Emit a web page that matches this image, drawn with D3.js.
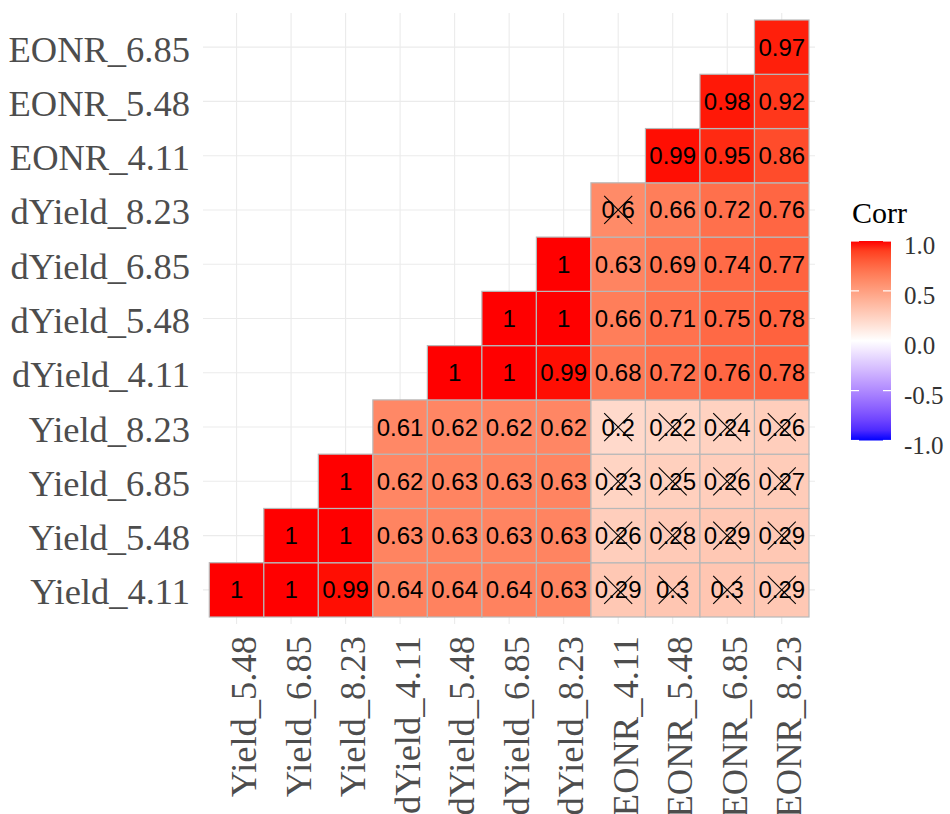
<!DOCTYPE html>
<html>
<head>
<meta charset="utf-8">
<script src="https://cdn.jsdelivr.net/npm/d3@7"></script>
<style>
  body { margin: 0; background: #fff; }
</style>
</head>
<body>
<div id="container"></div>
<script>
// variables on each axis
var xVars = ["Yield_5.48","Yield_6.85","Yield_8.23","dYield_4.11","dYield_5.48","dYield_6.85","dYield_8.23","EONR_4.11","EONR_5.48","EONR_6.85","EONR_8.23"];
var yVars = ["Yield_4.11","Yield_5.48","Yield_6.85","Yield_8.23","dYield_4.11","dYield_5.48","dYield_6.85","dYield_8.23","EONR_4.11","EONR_5.48","EONR_6.85"];

// correlations, one row per y variable, starting at the x column with the same index
var corrRows = [
  [1, 1, 0.99, 0.64, 0.64, 0.64, 0.63, 0.29, 0.3, 0.3, 0.29],
  [1, 1, 0.63, 0.63, 0.63, 0.63, 0.26, 0.28, 0.29, 0.29],
  [1, 0.62, 0.63, 0.63, 0.63, 0.23, 0.25, 0.26, 0.27],
  [0.61, 0.62, 0.62, 0.62, 0.2, 0.22, 0.24, 0.26],
  [1, 1, 0.99, 0.68, 0.72, 0.76, 0.78],
  [1, 1, 0.66, 0.71, 0.75, 0.78],
  [1, 0.63, 0.69, 0.74, 0.77],
  [0.6, 0.66, 0.72, 0.76],
  [0.99, 0.95, 0.86],
  [0.98, 0.92],
  [0.97]
];
// 1 = not significant (crossed out)
var insigRows = [
  [0, 0, 0, 0, 0, 0, 0, 1, 1, 1, 1],
  [0, 0, 0, 0, 0, 0, 1, 1, 1, 1],
  [0, 0, 0, 0, 0, 1, 1, 1, 1],
  [0, 0, 0, 0, 1, 1, 1, 1],
  [0, 0, 0, 0, 0, 0, 0],
  [0, 0, 0, 0, 0, 0],
  [0, 0, 0, 0, 0],
  [1, 0, 0, 0],
  [0, 0, 0],
  [0, 0],
  [0]
];
var legendBreaks = [-1, -0.5, 0, 0.5, 1];

var cells = [];
corrRows.forEach(function(row, i) {
  row.forEach(function(v, k) {
    cells.push({ x: xVars[i + k], y: yVars[i], value: v, insig: insigRows[i][k] === 1 });
  });
});

var svg = d3.select("#container").append("svg")
  .attr("width", 950)
  .attr("height", 814);

var x = d3.scaleBand().domain(xVars).range([209.3, 809]).padding(0);
var y = d3.scaleBand().domain(yVars.slice().reverse()).range([20, 617]).padding(0);

var fill = d3.scaleLinear().domain([-1, 0, 1])
  .range(["blue", "white", "red"])
  .interpolate(d3.interpolateLab);

var serif = "'Liberation Serif', 'Times New Roman', serif";
var sans = "'Liberation Sans', Arial, sans-serif";

// grid lines
var grid = svg.append("g");
xVars.forEach(function(v) {
  var cx = x(v) + x.bandwidth() / 2;
  grid.append("line").attr("x1", cx).attr("x2", cx).attr("y1", 13).attr("y2", 624)
    .attr("stroke", "#ebebeb").attr("stroke-width", 1.1);
});
yVars.forEach(function(v) {
  var cy = y(v) + y.bandwidth() / 2;
  grid.append("line").attr("x1", 203).attr("x2", 815).attr("y1", cy).attr("y2", cy)
    .attr("stroke", "#ebebeb").attr("stroke-width", 1.1);
});

// tiles
svg.append("g").selectAll("rect").data(cells).enter().append("rect")
  .attr("x", function(d) { return x(d.x); })
  .attr("y", function(d) { return y(d.y); })
  .attr("width", x.bandwidth())
  .attr("height", y.bandwidth())
  .attr("fill", function(d) { return fill(d.value); })
  .attr("stroke", "#b8b8b8")
  .attr("stroke-width", 1.2);

// values
svg.append("g").selectAll("text").data(cells).enter().append("text")
  .attr("x", function(d) { return x(d.x) + x.bandwidth() / 2; })
  .attr("y", function(d) { return y(d.y) + y.bandwidth() / 2 + 8.5; })
  .attr("text-anchor", "middle")
  .style("font-family", sans)
  .style("font-size", "24px")
  .attr("fill", "black")
  .text(function(d) { return String(d.value); });

// crosses for insignificant cells
var cr = 14;
var crosses = svg.append("g").selectAll("g").data(cells.filter(function(d) { return d.insig; }))
  .enter().append("g")
  .attr("transform", function(d) {
    return "translate(" + (x(d.x) + x.bandwidth() / 2) + "," + (y(d.y) + y.bandwidth() / 2) + ")";
  });
crosses.append("line").attr("x1", -cr).attr("y1", -cr).attr("x2", cr).attr("y2", cr)
  .attr("stroke", "black").attr("stroke-width", 1.1);
crosses.append("line").attr("x1", -cr).attr("y1", cr).attr("x2", cr).attr("y2", -cr)
  .attr("stroke", "black").attr("stroke-width", 1.1);

// y axis labels
svg.append("g").selectAll("text").data(yVars).enter().append("text")
  .attr("x", 190)
  .attr("y", function(d) { return y(d) + y.bandwidth() / 2 + 14.5; })
  .attr("text-anchor", "end")
  .style("font-family", serif)
  .style("font-size", "36.5px")
  .attr("fill", "#4d4d4d")
  .text(function(d) { return d; });

// x axis labels, rotated
svg.append("g").selectAll("text").data(xVars).enter().append("text")
  .attr("transform", function(d) {
    return "translate(" + (x(d) + x.bandwidth() / 2 + 19.5) + ",636) rotate(-90)";
  })
  .attr("text-anchor", "end")
  .style("font-family", serif)
  .style("font-size", "36.5px")
  .attr("fill", "#4d4d4d")
  .text(function(d) { return d; });

// legend
var legend = svg.append("g");
legend.append("text").attr("x", 852).attr("y", 223)
  .style("font-family", serif).style("font-size", "30px").attr("fill", "black")
  .text("Corr");

var ly = d3.scaleLinear().domain([1, -1]).range([241, 440.5]);
var grad = svg.append("defs").append("linearGradient").attr("id", "corrgrad")
  .attr("x1", 0).attr("y1", 0).attr("x2", 0).attr("y2", 1);
d3.range(0, 21).forEach(function(i) {
  var v = 1 - i / 10;
  grad.append("stop").attr("offset", (i / 20 * 100) + "%").attr("stop-color", fill(v));
});
legend.append("rect").attr("x", 851).attr("y", ly(1)).attr("width", 40).attr("height", ly(-1) - ly(1))
  .attr("fill", "url(#corrgrad)");
legendBreaks.forEach(function(b) {
  legend.append("line").attr("x1", 851).attr("x2", 859).attr("y1", ly(b)).attr("y2", ly(b))
    .attr("stroke", "white").attr("stroke-width", 1.2);
  legend.append("line").attr("x1", 883).attr("x2", 891).attr("y1", ly(b)).attr("y2", ly(b))
    .attr("stroke", "white").attr("stroke-width", 1.2);
  legend.append("text").attr("x", 904).attr("y", ly(b) + 13)
    .style("font-family", serif).style("font-size", "25px").attr("fill", "#333")
    .text(d3.format(".1f")(b).replace("−", "-"));
});
</script>
</body>
</html>
